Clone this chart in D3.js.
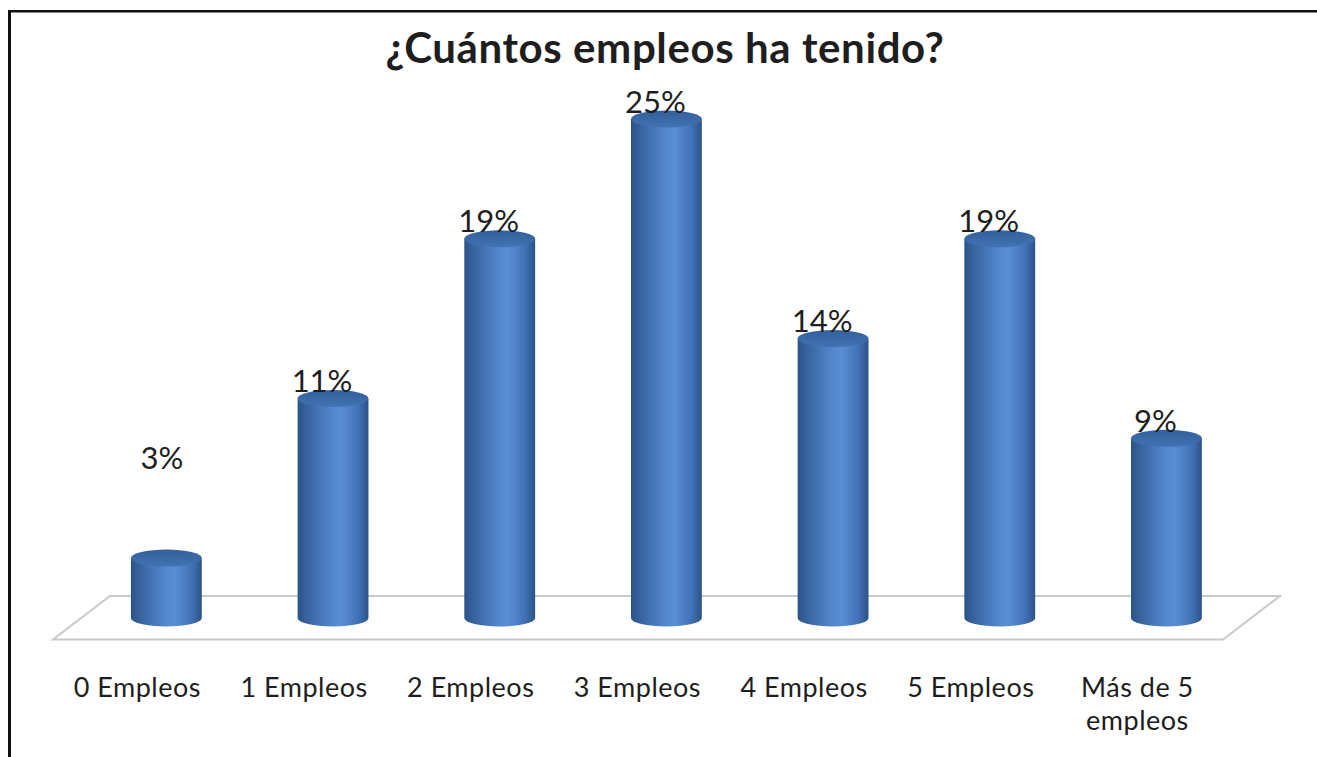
<!DOCTYPE html>
<html><head><meta charset="utf-8">
<script src="https://cdn.jsdelivr.net/npm/d3@7/dist/d3.min.js"></script>
<style>
html,body{margin:0;padding:0;background:#fff;}
svg{display:block;}
text{font-family:Lato,"Open Sans",sans-serif;fill:#1e1e1e;}
</style></head>
<body>
<script>
const title = "¿Cuántos empleos ha tenido?";
const categories = ["0 Empleos","1 Empleos","2 Empleos","3 Empleos","4 Empleos","5 Empleos","Más de 5 empleos"];
const categoryLines = [["0 Empleos"],["1 Empleos"],["2 Empleos"],["3 Empleos"],["4 Empleos"],["5 Empleos"],["Más de 5","empleos"]];
const values = [3, 11, 19, 25, 14, 19, 9];
const valueLabels = ["3%","11%","19%","25%","14%","19%","9%"];

const W = 1317, H = 757;
const svg = d3.select("body").append("svg").attr("width", W).attr("height", H);

// frame
svg.append("line").attr("x1",9.5).attr("x2",9.5).attr("y1",10).attr("y2",H).attr("stroke","#111").attr("stroke-width",3);
svg.append("line").attr("x1",8).attr("x2",W).attr("y1",11.3).attr("y2",11.3).attr("stroke","#111").attr("stroke-width",2.6);

// title
svg.append("text").attr("x",665).attr("y",63).attr("text-anchor","middle")
  .attr("font-weight","bold").attr("font-size",42).attr("letter-spacing",0.6).text(title);

const x = d3.scaleBand().domain(categories).range([82.6, 1250.2]).paddingInner(0.575).paddingOuter(0.29);
const y = d3.scaleLinear().domain([0, 25]).range([618, 119]);

// floor
const floor = [[110,596],[1280,596],[1223,639.5],[53,639.5]];
svg.append("path").attr("d", d3.line()(floor) + "Z")
  .attr("fill","none").attr("stroke","#c9c9c9").attr("stroke-width",2);

const defs = svg.append("defs");
const g1 = defs.append("linearGradient").attr("id","body").attr("x1","0").attr("x2","1").attr("y1","0").attr("y2","0");
[[0,"#2b5286"],[0.12,"#36629d"],[0.5,"#5488cf"],[0.62,"#5a8dd4"],[0.85,"#4273b8"],[1,"#2c5386"]]
  .forEach(s=>g1.append("stop").attr("offset",s[0]).attr("stop-color",s[1]));
const g2 = defs.append("linearGradient").attr("id","top").attr("x1","0").attr("x2","0").attr("y1","0").attr("y2","1");
[[0,"#34609a"],[1,"#4272b4"]].forEach(s=>g2.append("stop").attr("offset",s[0]).attr("stop-color",s[1]));

const rx = x.bandwidth()/2, ry = 8.5;
const bars = svg.append("g").selectAll("g").data(categories).join("g");
bars.append("path").attr("fill","url(#body)").attr("d",(c,i)=>{
  const cx = x(c)+rx, yt = y(values[i]), yb = y(0);
  return `M${cx-rx},${yt}V${yb}A${rx},${ry} 0 0 0 ${cx+rx},${yb}V${yt}Z`;
});
bars.append("ellipse").attr("cx",c=>x(c)+rx).attr("cy",(c,i)=>y(values[i]))
  .attr("rx",rx).attr("ry",ry).attr("fill","url(#top)");

// value labels
svg.append("g").selectAll("text").data(categories).join("text")
  .attr("x",(c,i)=>x(c)+rx-(i===0 ? 4.5 : 11))
  .attr("y",(c,i)=> i===0 ? 469 : y(values[i]) - ry + 2)
  .attr("text-anchor","middle").attr("font-size",31).text((c,i)=>valueLabels[i]);

// category labels
const lab = svg.append("g").selectAll("text").data(categories).join("text")
  .attr("x",c=>x(c)+rx-29).attr("y",697).attr("text-anchor","middle")
  .attr("font-size",27).attr("letter-spacing",0.5);
lab.selectAll("tspan").data((c,i)=>categoryLines[i]).join("tspan")
  .attr("x",function(){return this.parentNode.getAttribute("x");})
  .attr("dy",(d,j)=> j===0 ? 0 : 33).text(d=>d);
</script>
</body></html>
